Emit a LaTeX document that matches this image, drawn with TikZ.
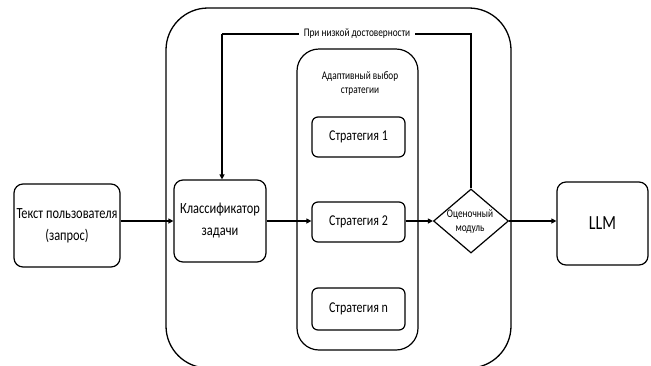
\documentclass[tikz,border=0pt]{standalone}
\usepackage{fontspec}
\setmainfont[FakeStretch=0.8]{Carlito}
\usetikzlibrary{shapes.geometric,arrows.meta}
\tikzset{
  box/.style={draw,line width=1.2pt,rounded corners=9pt,inner sep=0pt,align=center},
  sbox/.style={draw,line width=1.2pt,rounded corners=6pt,inner sep=0pt,align=center,minimum width=93pt,minimum height=40pt},
  conn/.style={line width=1.2pt,-{Triangle[length=5pt,width=5pt]}},
  fb/.style={line width=1.2pt},
  big/.style={font=\fontsize{15.5}{22}\selectfont},
  mid/.style={font=\fontsize{15}{20}\selectfont},
  small/.style={font=\fontsize{11.6}{14}\selectfont},
}
\begin{document}
\begin{tikzpicture}[x=1pt,y=-1pt]
\useasboundingbox (0,0) rectangle (651,365);
% containers
\node[draw,line width=1.3pt,rounded corners=42pt,minimum width=345pt,minimum height=360pt,inner sep=0pt] (outer) at (338.5,188) {};
\node[draw,line width=1.2pt,rounded corners=22pt,minimum width=121pt,minimum height=301pt,inner sep=0pt] (inner) at (357.5,199.5) {};
\node[small,align=center] (adapt) at (360,83) {Адаптивный выбор\\стратегии};
% boxes
\node[box,big,minimum width=106pt,minimum height=83pt] (user) at (67,225.5) {Текст пользователя\\(запрос)};
\node[box,big,minimum width=92pt,minimum height=82pt] (clf) at (220,221) {Классификатор\\задачи};
\node[sbox,mid] (s1) at (358.5,137) {Стратегия 1};
\node[sbox,mid] (s2) at (358.5,222) {Стратегия 2};
\node[sbox,mid,minimum height=42pt] (sn) at (358.5,309) {Стратегия n};
\node[draw,diamond,line width=1.2pt,minimum width=75pt,minimum height=64pt,inner sep=0pt] (eval) at (471,221) {};
\node[small,align=center] (evaltxt) at (470,222) {Оценочный\\модуль};
\node[box,minimum width=91pt,minimum height=83pt,font=\fontsize{20}{24}\selectfont] (llm) at (602.5,223.5) {LLM};
% connectors
\draw[conn] (user.east |- clf.west) -- (clf.west);
\draw[conn] (clf.east) -- (clf.east -| s2.west);
\draw[conn] (s2.east |- eval.west) -- (eval.west);
\draw[conn] (eval.east) -- (eval.east -| llm.west);
\coordinate (fbR) at (471,34);
\coordinate (fbL) at (222,34);
\draw[fb] (eval.north) -- (fbR) -- (fbL);
\draw[conn] (fbL) -- (fbL |- clf.north);
\node[small,fill=white,inner xsep=5pt,inner ysep=1pt] (fbl) at (357,34) {При низкой достоверности};
\end{tikzpicture}
\end{document}
